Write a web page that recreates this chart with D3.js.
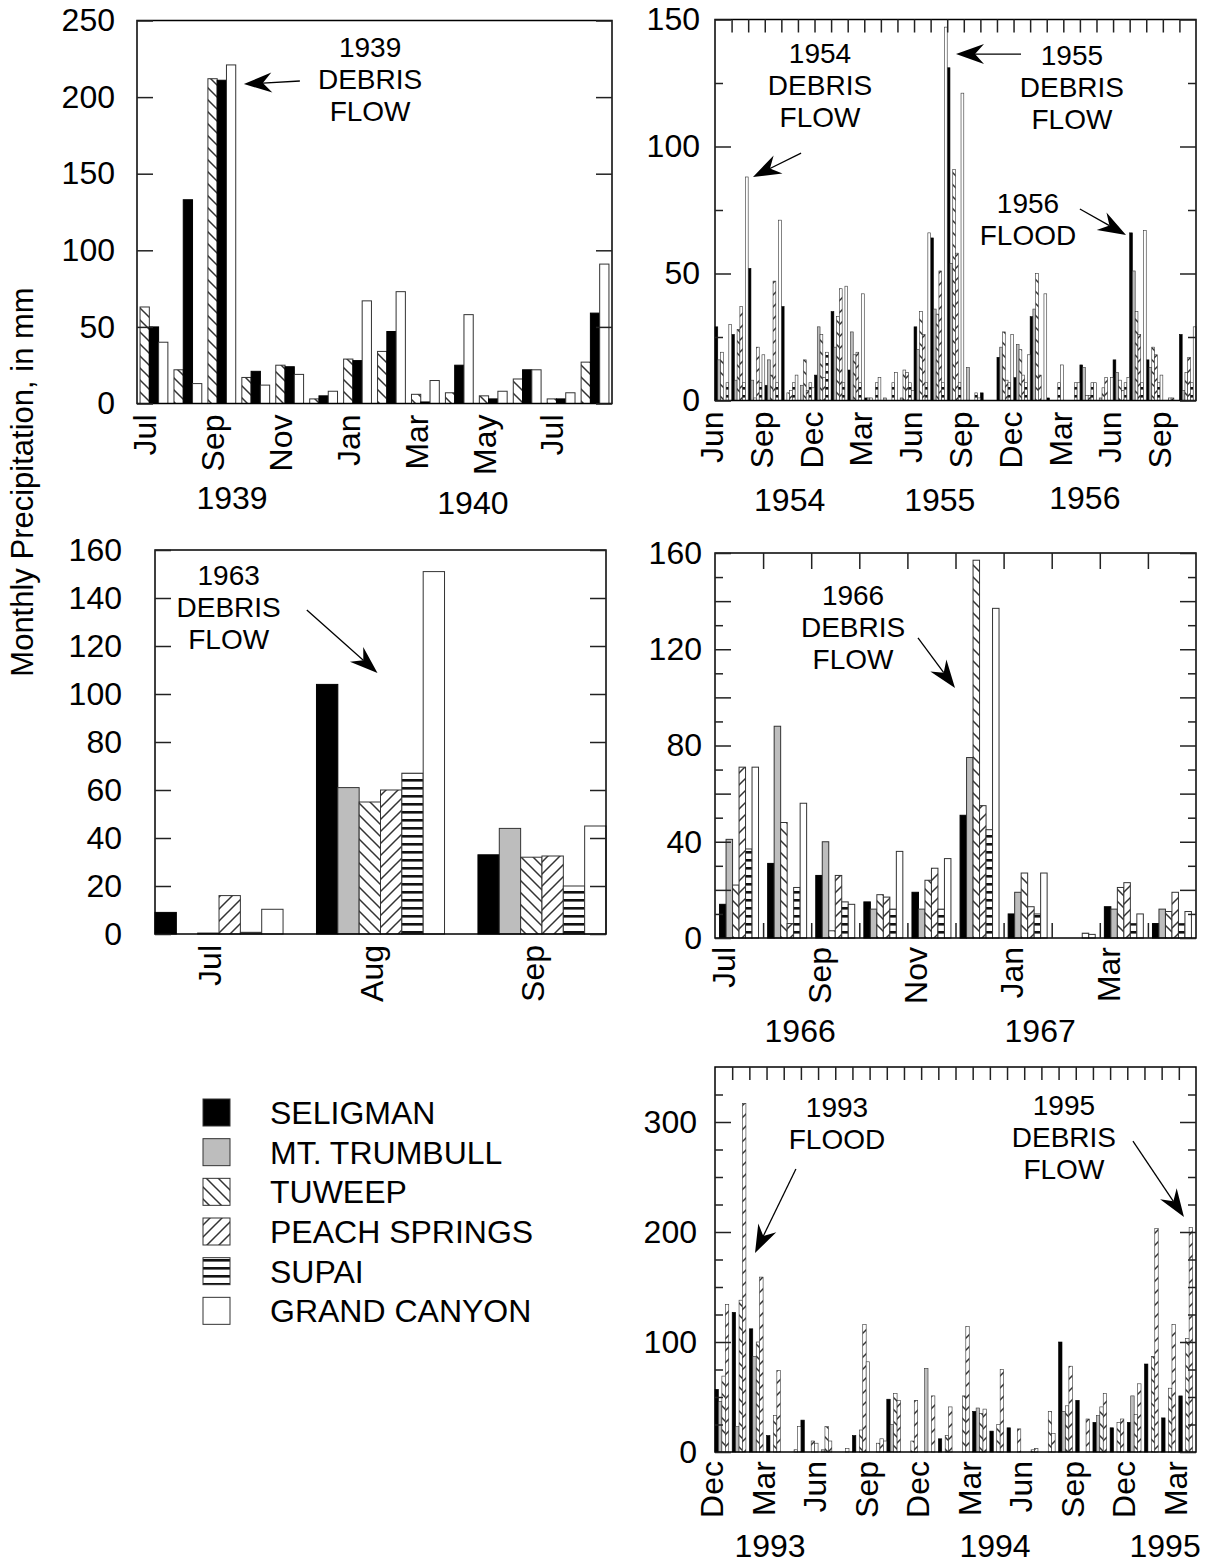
<!DOCTYPE html>
<html>
<head>
<meta charset="utf-8">
<script src="https://cdn.jsdelivr.net/npm/d3@7"></script>
<style>
  body { margin: 0; background: #fff; }
  svg text { font-family: "Liberation Sans", Arial, Helvetica, sans-serif; fill: #000; }
</style>
</head>
<body>
<svg id="chart" width="1219" height="1563"></svg>
<script>
////////////////////////////////////////
/////////////// Data ///////////////////
////////////////////////////////////////

const stationKeys = ["SEL", "MTT", "TUW", "PS", "SUP", "GC"];
const stationNames = ["SELIGMAN", "MT. TRUMBULL", "TUWEEP", "PEACH SPRINGS", "SUPAI", "GRAND CANYON"];
const monthNames = ["Jan", "Feb", "Mar", "Apr", "May", "Jun", "Jul", "Aug", "Sep", "Oct", "Nov", "Dec"];

// Jul 1939 - Aug 1940
const p1Tuweep = [63, 22, 212, 17, 25, 3, 29, 34, 6, 7, 5, 16, 3, 27];
const p1Seligman = [50, 133, 211, 21, 24, 5, 28, 47, 1, 25, 3, 22, 3, 59];
const p1GrandCanyon = [40, 13, 221, 12, 19, 8, 67, 73, 15, 58, 8, 22, 7, 91];

// Jun 1954 - Oct 1956
const p2Seligman = [29, 26, 52, 6, 37, 0, 10, 35, 12, 1, 0, 0, 29, 64, 131, 0, 3, 17, 9, 33, 1, 0, 14, 0, 16, 66, 16, 0, 26];
const p2Trumbull = [16, 8, 8, 16, 0, 6, 29, 21, 27, 1, 1, 1, 20, 36, 54, 13, 0, 21, 22, 36, 0, 0, 13, 1, 11, 51, 13, 0, 4];
const p2Tuweep = [19, 28, 1, 10, 3, 16, 26, 33, 18, 1, 0, 12, 35, 34, 91, 0, 0, 27, 20, 50, 0, 0, 2, 5, 8, 35, 21, 1, 11];
const p2Peach = [0, 37, 21, 47, 4, 4, 9, 44, 19, 0, 0, 11, 26, 51, 58, 0, 0, 8, 10, 10, 0, 0, 2, 9, 4, 26, 18, 1, 17];
const p2Supai = [7, 7, 7, 7, 7, 7, 19, 7, 7, 7, 7, 7, 7, 7, 7, 3, 0, 7, 7, 0, 7, 7, 7, 0, 7, 7, 7, 0, 7];
const p2GrandCanyon = [30, 88, 18, 71, 10, 5, 0, 45, 42, 9, 11, 4, 66, 147, 121, 1, 0, 26, 18, 42, 14, 7, 7, 9, 9, 67, 10, 0, 29];

// Jul - Sep 1963
const p3Seligman = [9, 104, 33];
const p3Trumbull = [0, 61, 44];
const p3Tuweep = [0.4, 55, 32];
const p3Peach = [16, 60, 32.5];
const p3Supai = [0.7, 67, 20];
const p3GrandCanyon = [10.3, 151, 45];

// Jul 1966 - Apr 1967
const p4Seligman = [14, 31, 26, 15, 19, 51, 10, 0, 13, 6];
const p4Trumbull = [41, 88, 40, 12, 12, 75, 19, 0, 12, 12];
const p4Tuweep = [22, 48, 3, 18, 24, 157, 27, 0, 21, 11];
const p4Peach = [71, 6, 26, 17, 29, 55, 13, 0, 23, 19];
const p4Supai = [37, 21, 15, 12, 12, 45, 10, 2, 6, 6];
const p4GrandCanyon = [71, 56, 14, 36, 33, 137, 27, 1.5, 10, 11];

// Dec 1992 - Mar 1995
const p5Seligman = [57, 127, 112, 15, 0, 29, 0, 0, 15, 0, 48, 0, 0, 12, 0, 37, 19, 22, 0, 0, 100, 47, 27, 22, 27, 80, 31, 51];
const p5Trumbull = [46, 23, 87, 0, 0, 0, 2, 0, 0, 0, 25, 0, 76, 0, 0, 40, 0, 0, 0, 0, 37, 0, 33, 0, 51, 0, 0, 0];
const p5Tuweep = [69, 138, 100, 33, 0, 0, 23, 0, 20, 8, 53, 10, 0, 15, 51, 35, 25, 0, 2, 37, 42, 0, 41, 27, 34, 87, 58, 103];
const p5Peach = [134, 317, 159, 74, 2, 10, 10, 3, 116, 12, 47, 47, 51, 41, 114, 39, 75, 21, 3, 17, 78, 30, 53, 30, 62, 203, 116, 204];
const p5GrandCanyon = [0, 0, 0, 0, 23, 8, 0, 0, 82, 10, 0, 0, 0, 0, 0, 0, 0, 0, 0, 0, 0, 0, 0, 0, 0, 0, 0, 0];

////////////////////////////////////////
////////////// SVG Setup ///////////////
////////////////////////////////////////

const svg = d3.select("#chart");
const defs = svg.append("defs");

function pattern(id, w, h, draw) {
  const p = defs.append("pattern")
    .attr("id", id)
    .attr("patternUnits", "userSpaceOnUse")
    .attr("width", w)
    .attr("height", h);
  p.append("rect").attr("width", w).attr("height", h).attr("fill", "#fff");
  draw(p);
}

pattern("hatchTuweep", 12, 12, p => p.append("path")
  .attr("d", "M0,0L12,12M-3,9L3,15M9,-3L15,3")
  .attr("stroke", "#333").attr("stroke-width", 1.5));
pattern("hatchPeach", 12, 12, p => p.append("path")
  .attr("d", "M0,12L12,0M-3,3L3,-3M9,15L15,9")
  .attr("stroke", "#333").attr("stroke-width", 1.5));
pattern("hatchSupai", 8, 8, p => p.append("rect")
  .attr("y", 3).attr("width", 8).attr("height", 2.6).attr("fill", "#111"));

const fills = {
  SEL: "#000",
  MTT: "#bdbdbd",
  TUW: "url(#hatchTuweep)",
  PS: "url(#hatchPeach)",
  SUP: "url(#hatchSupai)",
  GC: "#fff"
};

const fontSize = 32;
const noteSize = 28;
const noteLead = 31.8;

////////////////////////////////////////
////////////// Panels //////////////////
////////////////////////////////////////

function drawPanel(o) {
  const g = svg.append("g");
  const [x0, x1, yTop, yBot] = o.box;
  const n = o.values[o.series[0]].length;

  const y = d3.scaleLinear().domain([0, o.max]).range([yBot, yTop]);
  const xLin = d3.scaleLinear().domain([0, n]).range([x0, x1]);
  const xm = d3.scaleBand().domain(d3.range(n)).range([x0, x1])
    .paddingInner(o.pad[0]).paddingOuter(o.pad[1]);
  const xs = d3.scaleBand().domain(o.series).range([0, xm.bandwidth()]);

  // bars
  o.series.forEach(s => {
    g.append("g").selectAll("rect")
      .data(o.values[s].map((v, i) => ({ v, i })).filter(d => d.v > 0))
      .join("rect")
      .attr("x", d => xm(d.i) + xs(s))
      .attr("y", d => y(d.v))
      .attr("width", xs.bandwidth())
      .attr("height", d => y(0) - y(d.v))
      .attr("fill", fills[s])
      .attr("stroke", s === "SEL" ? "#000" : "#333")
      .attr("stroke-width", o.barStroke);
  });

  // frame
  g.append("rect")
    .attr("x", x0).attr("y", yTop)
    .attr("width", x1 - x0).attr("height", yBot - yTop)
    .attr("fill", "none").attr("stroke", "#000").attr("stroke-width", 1.5);

  const tickStyle = sel => {
    sel.select(".domain").remove();
    sel.selectAll(".tick line").attr("stroke", "#222").attr("stroke-width", 1.5);
  };

  // minor y ticks
  if (o.minor) {
    g.append("g").attr("transform", `translate(${x0},0)`)
      .call(d3.axisLeft(y).tickValues(o.minor).tickSize(-8).tickFormat(""))
      .call(tickStyle);
    g.append("g").attr("transform", `translate(${x1},0)`)
      .call(d3.axisRight(y).tickValues(o.minor).tickSize(-8).tickFormat(""))
      .call(tickStyle);
  }

  // major y ticks with labels on the left
  g.append("g").attr("transform", `translate(${x0},0)`)
    .call(d3.axisLeft(y).tickValues(o.major).tickSize(-16).tickPadding(o.labelGap)
      .tickFormat(d => o.labels.includes(d) ? d : ""))
    .call(tickStyle)
    .call(a => a.selectAll("text").attr("font-size", fontSize).attr("fill", "#000")
      .attr("font-family", "Liberation Sans, Arial, sans-serif"));
  g.append("g").attr("transform", `translate(${x1},0)`)
    .call(d3.axisRight(y).tickValues(o.major).tickSize(-16).tickFormat(""))
    .call(tickStyle);

  // month boundary ticks
  const bounds = d3.range(1, n);
  if (o.topTicks) {
    g.append("g").attr("transform", `translate(0,${yTop})`)
      .call(d3.axisTop(xLin).tickValues(bounds).tickSize(-o.topTicks).tickFormat(""))
      .call(tickStyle);
  }
  if (o.bottomTicks) {
    g.append("g").attr("transform", `translate(0,${yBot})`)
      .call(d3.axisBottom(xLin).tickValues(bounds).tickSize(-o.bottomTicks).tickFormat(""))
      .call(tickStyle);
  }

  // month labels
  const names = d3.range(n).map(i => monthNames[(o.startMonth + i) % 12]);
  g.append("g").selectAll("text")
    .data(d3.range(n).filter(i => o.labelIdx.includes(i)))
    .join("text")
    .attr("transform", i => `translate(${xm(i) + o.monthDx},${yBot + o.monthGap}) rotate(-90)`)
    .attr("text-anchor", "end")
    .attr("dy", "0.35em")
    .attr("font-size", fontSize)
    .text(i => names[i]);

  // year labels
  g.append("g").selectAll("text")
    .data(o.years)
    .join("text")
    .attr("x", d => xLin(d.m))
    .attr("y", d => d.base)
    .attr("text-anchor", "middle")
    .attr("font-size", fontSize)
    .text(d => d.label);

  // annotations
  o.notes.forEach(a => {
    const t = g.append("text")
      .attr("x", xLin(a.m))
      .attr("y", y(a.v))
      .attr("text-anchor", "middle")
      .attr("font-size", noteSize);
    a.lines.forEach((l, k) => {
      t.append("tspan").attr("x", xLin(a.m)).attr("dy", k === 0 ? 0 : noteLead).text(l);
    });
    arrow(g, [xLin(a.from[0]), y(a.from[1])], [xLin(a.to[0]), y(a.to[1])]);
  });
}

function arrow(g, from, to) {
  const dx = to[0] - from[0], dy = to[1] - from[1];
  const len = Math.hypot(dx, dy);
  const ux = dx / len, uy = dy / len;
  const nx = -uy, ny = ux;
  const L = 28, W = 10, N = 9;
  const bx = to[0] - L * ux, by = to[1] - L * uy;
  const notch = [to[0] - (L - N) * ux, to[1] - (L - N) * uy];
  g.append("line")
    .attr("x1", from[0]).attr("y1", from[1])
    .attr("x2", notch[0]).attr("y2", notch[1])
    .attr("stroke", "#000").attr("stroke-width", 1.3);
  g.append("path")
    .attr("d", `M${to[0]},${to[1]}L${bx + W * nx},${by + W * ny}L${notch[0]},${notch[1]}L${bx - W * nx},${by - W * ny}Z`)
    .attr("fill", "#000");
}

const six = ["SEL", "MTT", "TUW", "PS", "SUP", "GC"];

drawPanel({
  box: [137, 612, 20.5, 403.5], max: 250, pad: [0.18, 0.09], barStroke: 1,
  series: ["TUW", "SEL", "GC"],
  values: { TUW: p1Tuweep, SEL: p1Seligman, GC: p1GrandCanyon },
  major: d3.range(0, 251, 50), labels: d3.range(0, 251, 50), labelGap: 22,
  startMonth: 6, labelIdx: [0, 2, 4, 6, 8, 10, 12], monthDx: 5, monthGap: 11,
  years: [{ label: "1939", m: 2.8, base: 509 }, { label: "1940", m: 9.9, base: 514 }],
  notes: [{ lines: ["1939", "DEBRIS", "FLOW"], m: 6.87, v: 226, from: [4.8, 210.5], to: [3.15, 208.5] }]
});

drawPanel({
  box: [715, 1196, 19.5, 400.5], max: 150, pad: [0, 0], barStroke: 0.6,
  series: six,
  values: { SEL: p2Seligman, MTT: p2Trumbull, TUW: p2Tuweep, PS: p2Peach, SUP: p2Supai, GC: p2GrandCanyon },
  major: [0, 50, 100, 150], minor: [25, 75, 125], labels: [0, 50, 100, 150], labelGap: 15,
  topTicks: 13,
  startMonth: 5, labelIdx: d3.range(0, 29, 3), monthDx: -3, monthGap: 11,
  years: [{ label: "1954", m: 4.5, base: 511 }, { label: "1955", m: 13.55, base: 511 }, { label: "1956", m: 22.3, base: 509 }],
  notes: [
    { lines: ["1954", "DEBRIS", "FLOW"], m: 6.33, v: 132.9, from: [5.19, 97.4], to: [2.29, 88] },
    { lines: ["1955", "DEBRIS", "FLOW"], m: 21.52, v: 132.1, from: [18.45, 136.4], to: [14.53, 136.4] },
    { lines: ["1956", "FLOOD"], m: 18.87, v: 73.8, from: [22.0, 75.4], to: [24.78, 65.2] }
  ]
});

drawPanel({
  box: [155, 606, 550, 934], max: 160, pad: [0.207, 0], barStroke: 1,
  series: six,
  values: { SEL: p3Seligman, MTT: p3Trumbull, TUW: p3Tuweep, PS: p3Peach, SUP: p3Supai, GC: p3GrandCanyon },
  major: d3.range(0, 161, 20), labels: d3.range(0, 161, 20), labelGap: 33,
  startMonth: 6, labelIdx: [0, 1, 2], monthDx: 55, monthGap: 11,
  years: [],
  notes: [{ lines: ["1963", "DEBRIS", "FLOW"], m: 0.49, v: 145.4, from: [1.01, 135], to: [1.48, 108.75] }]
});

drawPanel({
  box: [715, 1196, 553, 938], max: 160, pad: [0.19, 0.095], barStroke: 1,
  series: six,
  values: { SEL: p4Seligman, MTT: p4Trumbull, TUW: p4Tuweep, PS: p4Peach, SUP: p4Supai, GC: p4GrandCanyon },
  major: d3.range(0, 161, 20), minor: d3.range(10, 160, 20), labels: [0, 40, 80, 120, 160], labelGap: 13,
  topTicks: 16, bottomTicks: 15,
  startMonth: 6, labelIdx: [0, 2, 4, 6, 8], monthDx: 4, monthGap: 9,
  years: [{ label: "1966", m: 1.77, base: 1042 }, { label: "1967", m: 6.76, base: 1042 }],
  notes: [{ lines: ["1966", "DEBRIS", "FLOW"], m: 2.87, v: 138.4, from: [4.22, 124.7], to: [4.99, 103.9] }]
});

drawPanel({
  box: [715, 1196, 1067, 1452], max: 350, pad: [0, 0], barStroke: 0.6,
  series: ["SEL", "MTT", "TUW", "PS", "GC"],
  values: { SEL: p5Seligman, MTT: p5Trumbull, TUW: p5Tuweep, PS: p5Peach, GC: p5GrandCanyon },
  major: [0, 100, 200, 300], minor: [25, 50, 75, 125, 150, 175, 225, 250, 275, 325], labels: [0, 100, 200, 300], labelGap: 18,
  topTicks: 13,
  startMonth: 11, labelIdx: d3.range(0, 28, 3), monthDx: -3, monthGap: 9,
  years: [{ label: "1993", m: 3.2, base: 1557 }, { label: "1994", m: 16.3, base: 1557 }, { label: "1995", m: 26.2, base: 1557 }],
  notes: [
    { lines: ["1993", "FLOOD"], m: 7.1, v: 304.5, from: [4.71, 257.3], to: [2.33, 180.9] },
    { lines: ["1995", "DEBRIS", "FLOW"], m: 20.31, v: 306.4, from: [24.33, 282.7], to: [27.3, 213.6] }
  ]
});

////////////////////////////////////////
////////////// Legend //////////////////
////////////////////////////////////////

const ly = d3.scaleBand().domain(stationKeys).range([1099, 1337]);
const legend = svg.append("g");
legend.selectAll("rect")
  .data(stationKeys)
  .join("rect")
  .attr("x", 203)
  .attr("y", d => ly(d))
  .attr("width", 27)
  .attr("height", 27)
  .attr("fill", d => fills[d])
  .attr("stroke", "#333")
  .attr("stroke-width", 1);
legend.selectAll("text")
  .data(stationKeys)
  .join("text")
  .attr("x", 270)
  .attr("y", d => ly(d) + 25)
  .attr("font-size", fontSize)
  .text((d, i) => stationNames[i]);

// y axis title
svg.append("text")
  .attr("transform", "translate(22,482) rotate(-90)")
  .attr("text-anchor", "middle")
  .attr("dy", "0.35em")
  .attr("font-size", 31)
  .text("Monthly Precipitation, in mm");
</script>
</body>
</html>
